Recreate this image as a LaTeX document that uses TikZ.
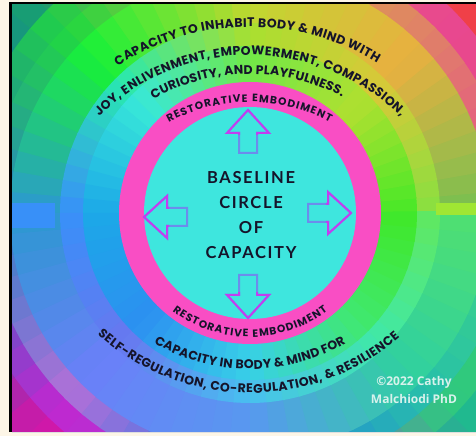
\documentclass[tikz,border=0pt]{standalone}
\usepackage{fontspec}
\usetikzlibrary{decorations.text}

\newfontfamily\capfont{Poppins}
\newfontfamily\basefont{Lato}[LetterSpace=10]
\newfontfamily\creditfont{Open Sans}

\definecolor{paper}{HTML}{FDF6E7}
\definecolor{pinkring}{HTML}{F94EC4}
\definecolor{cyandisk}{HTML}{3EE6DE}
\definecolor{ink}{HTML}{15142A}
\definecolor{headpurple}{HTML}{C23EF0}
\definecolor{shaftblue}{HTML}{6C8CEC}
\definecolor{creditwhite}{HTML}{D8F2EC}

% ring colours: 0 east (upper side), 1 NE, 2 N, 3 NW, 4 W, 5 SW, 6 S, 7 SE, 8 east (lower side)
\newcommand\ringcol[2]{\definecolor{ring#1}{HTML}{#2}}
\ringcol{A0}{48E828}\ringcol{A1}{B0E030}\ringcol{A2}{70E848}\ringcol{A3}{38E8D8}\ringcol{A4}{1CA8E8}
\ringcol{A5}{2C90F0}\ringcol{A6}{38D0E8}\ringcol{A7}{40E870}\ringcol{A8}{40E828}
\ringcol{B0}{88E040}\ringcol{B1}{D8C838}\ringcol{B2}{A8E030}\ringcol{B3}{28E8B0}\ringcol{B4}{3890F8}
\ringcol{B5}{6878F0}\ringcol{B6}{48C0F0}\ringcol{B7}{40E8A8}\ringcol{B8}{60E860}
\ringcol{C0}{78C050}\ringcol{C1}{E8B040}\ringcol{C2}{C0D830}\ringcol{C3}{18F038}\ringcol{C4}{2C98D0}
\ringcol{C5}{6A80F8}\ringcol{C6}{5898F0}\ringcol{C7}{30D0A0}\ringcol{C8}{50E070}
\ringcol{D0}{E84890}\ringcol{D1}{E08068}\ringcol{D2}{D8B040}\ringcol{D3}{20D840}\ringcol{D4}{2A80C8}
\ringcol{D5}{B070D8}\ringcol{D6}{2078E8}\ringcol{D7}{28C0A8}\ringcol{D8}{40D880}
\ringcol{E0}{E84880}\ringcol{E1}{E84890}\ringcol{E2}{E07060}\ringcol{E3}{20D048}\ringcol{E4}{2070C0}
\ringcol{E5}{C028D0}\ringcol{E6}{A040D8}\ringcol{E7}{30C880}\ringcol{E8}{30D070}
\ringcol{F0}{F04050}\ringcol{F1}{F04048}\ringcol{F2}{F06040}\ringcol{F3}{18A070}\ringcol{F4}{1068C0}
\ringcol{F5}{D018A8}\ringcol{F6}{C020C0}\ringcol{F7}{20B890}\ringcol{F8}{28C880}

\newcommand\capstyle{\capfont\bfseries\fontsize{12.5}{12.5}\selectfont\color{ink}}
\newcommand\reststyle{\capfont\bfseries\fontsize{10.6}{10.6}\selectfont\color{ink}}

\begin{document}
\begin{tikzpicture}[x=1pt, y=1pt,
  curvetext/.style={decorate, decoration={text along path, text align={fit to path}, text={#1}}},
  arrowline/.style={line width=2pt, line join=miter},
  title/.style={font=\basefont\bfseries\fontsize{16.5}{25}\selectfont, text=ink, align=center, inner sep=0pt},
  credit/.style={font=\creditfont\bfseries\fontsize{12}{18}\selectfont, text=creditwhite, align=center, inner sep=0pt}]
  \useasboundingbox (0,0) rectangle (476,436);
  \fill[paper] (0,0) rectangle (476,436);

  \coordinate (ctr) at (250,223);
  \coordinate (topc) at (250,166);
  \coordinate (restt) at (250,164);
  \coordinate (restb) at (250,228);
  \coordinate (lowa) at (250,259);
  \coordinate (lowb) at (250,271);

  % rainbow rings
  \begin{scope}
    \clip (12,4) rectangle (476,432);
    \foreach \rg/\rad in {F/340,E/287,D/262,C/240,B/190,A/167}{
      \foreach \k in {0,...,7}{
        \pgfmathtruncatemacro\kn{\k+1}
        \foreach \j in {0,...,8}{
          \pgfmathsetmacro\pct{100-100*(\j+0.5)/9}
          \pgfmathsetmacro\anga{45*\k+5*\j}
          \pgfmathsetmacro\angb{\anga+5.6}
          \edef\cmix{ring\rg\k!\pct!ring\rg\kn}
          \path[fill=\cmix] (ctr) -- ++(\anga:\rad) arc[start angle=\anga, end angle=\angb, radius=\rad] -- cycle;
        }
      }
    }
    \fill[ringB4] (12,208) rectangle (55,233);
    \fill[ringB0!80!yellow] (436,221) rectangle (476,233);
  \end{scope}

  \fill[pinkring] (ctr) circle[radius=131];
  \fill[cyandisk] (ctr) circle[radius=106];

  % arrows, tip first
  \foreach \tx/\ty/\rot in {248/326/0, 248/118/180, 144/219/90, 351/223/-90}{
    \begin{scope}[shift={(\tx,\ty)}, rotate=\rot]
      \draw[arrowline, shaftblue] (0,0) -- (21,-23) -- (9,-23) -- (9,-43) -- (-9,-43) -- (-9,-23) -- (-21,-23) -- cycle;
      \begin{scope}
        \clip (-26,4) rectangle (26,-25);
        \draw[arrowline, headpurple] (0,0) -- (21,-23) -- (9,-23) -- (9,-43) -- (-9,-43) -- (-9,-23) -- (-21,-23) -- cycle;
      \end{scope}
    \end{scope}
  }

  \node[title] (baseline) at (251,220.5) {BASELINE\\CIRCLE\\OF\\CAPACITY};

  % curved texts
  \path[curvetext={|\capstyle|CAPACITY TO INHABIT BODY {\&} MIND WITH}]
    ([shift={(123:243)}]topc) arc[start angle=123, end angle=58.5, radius=243];
  \path[curvetext={|\capstyle|JOY, ENLIVENMENT, EMPOWERMENT, COMPASSION,}]
    ([shift={(134.5:215)}]topc) arc[start angle=134.5, end angle=45.5, radius=215];
  \path[curvetext={|\capstyle|CURIOSITY, AND PLAYFULNESS.}]
    ([shift={(119.5:196)}]topc) arc[start angle=119.5, end angle=62, radius=196];
  \path[curvetext={|\reststyle|RESTORATIVE EMBODIMENT}]
    ([shift={(118.5:170)}]restt) arc[start angle=118.5, end angle=62, radius=170];
  \path[curvetext={|\reststyle|RESTORATIVE EMBODIMENT}]
    ([shift={(233:129)}]restb) arc[start angle=233, end angle=307, radius=129];
  \path[curvetext={|\capstyle|CAPACITY IN BODY {\&} MIND FOR}]
    ([shift={(240:192)}]lowa) arc[start angle=240, end angle=300, radius=192];
  \path[curvetext={|\capstyle|SELF-REGULATION, CO-REGULATION, {\&} RESILIENCE}]
    ([shift={(228:228)}]lowb) arc[start angle=228, end angle=311, radius=228];

  \node[credit] (credit) at (414,46) {©2022 Cathy\\Malchiodi PhD};

  % frame
  \draw[line width=2.5pt] (10.5,4) -- (10.5,433) -- (476,433);
  \draw[gray!25, line width=1pt] (12,3.5) -- (476,3.5);
\end{tikzpicture}
\end{document}
